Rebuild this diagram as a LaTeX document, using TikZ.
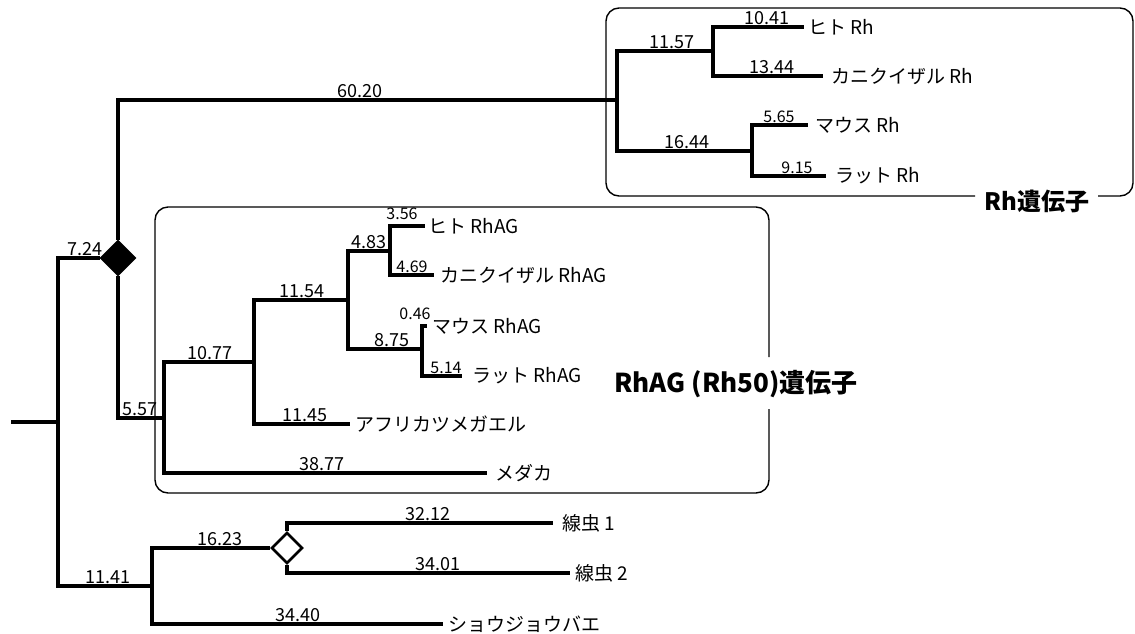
\documentclass[tikz,border=0pt]{standalone}
\usepackage{fontspec}
\setmainfont{Noto Sans CJK JP}
\usetikzlibrary{shapes.geometric}
\begin{document}
\begin{tikzpicture}[x=1pt,y=-1pt,
 br/.style={line width=3.2pt},
 bx/.style={line width=1.4pt, rounded corners=13pt},
 leaf/.style={anchor=west, inner xsep=#1, inner ysep=1pt, font=\fontsize{19}{21}\selectfont},
 leaf/.default=5pt,
 num/.style={anchor=base, inner sep=0pt, font=\fontsize{18}{20}\selectfont},
 snum/.style={num, font=\fontsize{16}{18}\selectfont},
 grp/.style={font=\bfseries\fontsize{24}{27}\selectfont, inner sep=0pt},
 dia/.style={diamond, draw, line width=2.6pt, minimum width=#1, minimum height=#1, inner sep=0pt},
 dia/.default=34pt]
\useasboundingbox (0,0) rectangle (1135,633);
% group boxes
\node[grp] (rhlab) at (1037,201) {Rh遺伝子};
\node[grp, font=\bfseries\fontsize{26}{28}\selectfont] (aglab) at (736,384) {RhAG (Rh50)遺伝子};
\draw[bx] (975,196) -- (606,196) -- (606,8) -- (1133,8) -- (1133,196) -- (1098,196);
\draw[bx] (769,357) -- (769,207) -- (155,207) -- (155,493) -- (769,493) -- (769,409);
% internal nodes
\coordinate (c0) at (11,422);
\coordinate (r) at (58,422);
\node[dia, fill=black] (dA) at (118,258) {};
\coordinate (rh) at (617,100);
\coordinate (rh1) at (713,51);
\coordinate (rh2) at (752,151);
\coordinate (ag0) at (164,418);
\coordinate (ag1) at (254,362);
\coordinate (ag2) at (348,300);
\coordinate (ag3) at (390,251);
\coordinate (ag4) at (422,349);
\coordinate (nb) at (152,586);
\node[dia=31pt, fill=white] (dB) at (287,548) {};
% leaves
\node[leaf=4pt] (l1) at (804,27) {ヒト Rh};
\node[leaf=8pt] (l2) at (823,76) {カニクイザル Rh};
\node[leaf=7pt] (l3) at (808,125) {マウス Rh};
\node[leaf=9pt] (l4) at (826,176) {ラット Rh};
\node[leaf=3pt] (l5) at (425,226) {ヒト RhAG};
\node[leaf=6pt] (l6) at (434,275) {カニクイザル RhAG};
\node[leaf=5pt] (l7) at (427,326) {マウス RhAG};
\node[leaf=10pt] (l8) at (462,376) {ラット RhAG};
\node[leaf=5pt] (l9) at (350,424) {アフリカツメガエル};
\node[leaf=8pt] (l10) at (487,473) {メダカ};
\node[leaf=9pt] (l11) at (553,523) {線虫 1};
\node[leaf=5pt] (l12) at (570,573) {線虫 2};
\node[leaf=5pt] (l13) at (443,624) {ショウジョウバエ};
% branches
\draw[br] (c0) -- (r);
\draw[br] (r) |- (dA);
\draw[br] (r) |- (nb);
\draw[br] (dA) |- (rh);
\draw[br] (dA) |- (ag0);
\draw[br] (rh) |- (rh1);
\draw[br] (rh) |- (rh2);
\draw[br] (rh1) |- (l1);
\draw[br] (rh1) |- (l2);
\draw[br] (rh2) |- (l3);
\draw[br] (rh2) |- (l4);
\draw[br] (ag0) |- (ag1);
\draw[br] (ag0) |- (l10);
\draw[br] (ag1) |- (ag2);
\draw[br] (ag1) |- (l9);
\draw[br] (ag2) |- (ag3);
\draw[br] (ag2) |- (ag4);
\draw[br] (ag3) |- (l5);
\draw[br] (ag3) |- (l6);
\draw[br] (ag4) |- (l7);
\draw[br] (ag4) |- (l8);
\draw[br] (nb) |- (dB);
\draw[br] (nb) |- (l13);
\draw[br] (dB) |- (l11);
\draw[br] (dB) |- (l12);
% branch lengths
\node[num] (t1) at (360,97.5) {60.20};
\node[num] (t2) at (85,255.5) {7.24};
\node[num] (t3) at (672,48.5) {11.57};
\node[num] (t4) at (767,24.5) {10.41};
\node[num] (t5) at (772,73.5) {13.44};
\node[num] (t6) at (687,148.5) {16.44};
\node[snum] (t7) at (779,122.5) {5.65};
\node[snum] (t8) at (797,173.5) {9.15};
\node[num] (t9) at (369,248.5) {4.83};
\node[num] (t10) at (302,297.5) {11.54};
\node[num] (t11) at (210,359.5) {10.77};
\node[num] (t12) at (140,415.5) {5.57};
\node[num] (t13) at (305,421.5) {11.45};
\node[num] (t14) at (322,470.5) {38.77};
\node[snum] (t15) at (402,219) {3.56};
\node[snum] (t16) at (412,272.5) {4.69};
\node[snum] (t17) at (415,319) {0.46};
\node[num] (t18) at (392,346.5) {8.75};
\node[snum] (t19) at (446,373.5) {5.14};
\node[num] (t20) at (220,545.5) {16.23};
\node[num] (t21) at (108,583.5) {11.41};
\node[num] (t22) at (428,520.5) {32.12};
\node[num] (t23) at (438,570.5) {34.01};
\node[num] (t24) at (298,621.5) {34.40};
\end{tikzpicture}
\end{document}
